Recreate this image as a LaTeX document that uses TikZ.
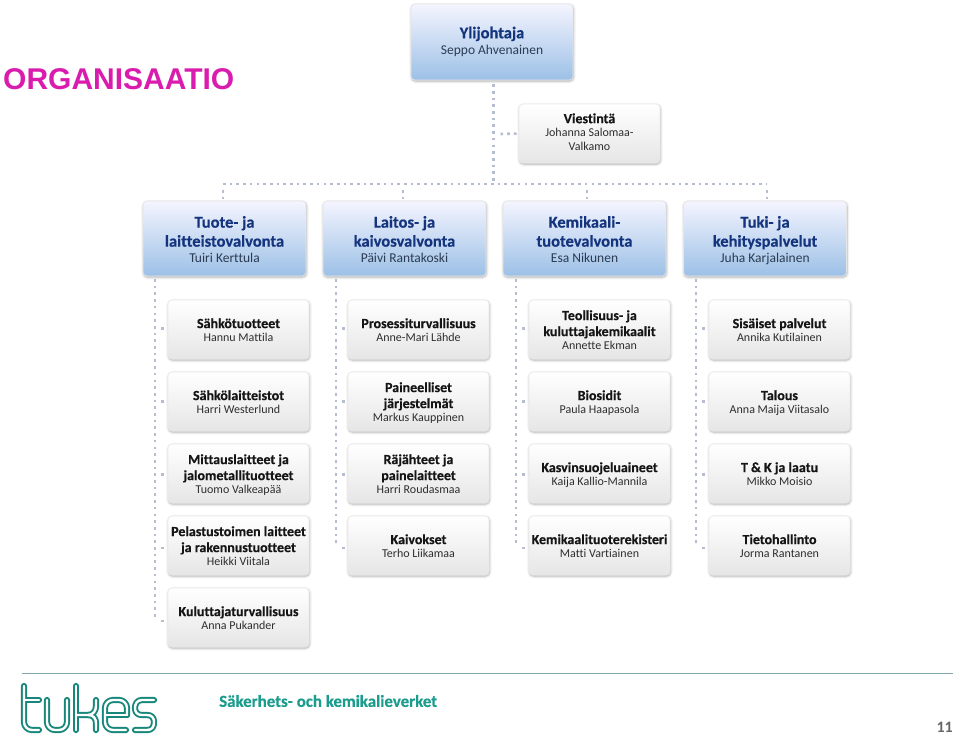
\documentclass[tikz,border=0pt]{standalone}
\usepackage{fontspec}
\setmainfont{Carlito}[Ligatures=NoCommon,BoldFeatures={FakeBold=0.4}]
\newfontfamily\footfont{Carlito}[Ligatures=NoCommon]
\newfontfamily\titlefont{Liberation Sans}
\usetikzlibrary{shadows,shadows.blur}
\definecolor{navy}{HTML}{15347E}
\definecolor{nameblue}{HTML}{2B3B52}
\definecolor{ink}{HTML}{151515}
\definecolor{namegrey}{HTML}{2E2E2E}
\definecolor{dotc}{HTML}{B6BDD1}
\definecolor{teal1}{HTML}{17877B}
\definecolor{teal2}{HTML}{1B9C8C}
\definecolor{rulec}{HTML}{7FA9AD}
\definecolor{mag}{HTML}{D91CAE}
\definecolor{bmid}{HTML}{DDE9F6}
\definecolor{bbot}{HTML}{9CC0E6}
\newcommand{\lines}[1]{\begin{tabular}{@{}c@{}}#1\end{tabular}}
\newcommand{\hd}[1]{{\fontsize{16.5}{19}\selectfont\bfseries\color{navy}\lines{\rule{0pt}{18pt}#1}}\\[-1pt]}
\newcommand{\hdn}[1]{{\fontsize{16.5}{19}\selectfont\bfseries\color{navy}\lines{#1}}\\[-1pt]}
\newcommand{\nm}[1]{{\fontsize{13.5}{15}\selectfont\color{nameblue}\lines{#1}}}
\newcommand{\hb}[1]{{\fontsize{14}{16}\selectfont\bfseries\color{ink}\lines{\rule{0pt}{15pt}#1}}\\[-2pt]}
\newcommand{\hbn}[1]{{\fontsize{14}{16}\selectfont\bfseries\color{ink}\lines{#1}}\\[-2pt]}
\newcommand{\nb}[1]{{\fontsize{12}{14}\selectfont\color{namegrey}\lines{#1}}}
\tikzset{
  x=1pt,y=-1pt,
  softshadow/.style={blur shadow={shadow xshift=0.5pt,shadow yshift=-1.2pt,shadow blur radius=2.5pt,shadow blur steps=6,shadow opacity=32}},
  bluebox/.style={rounded corners=4pt,draw=white!90!black,line width=.6pt,minimum width=163pt,minimum height=75pt,
    top color=white!96!blue,middle color=bmid,bottom color=bbot,
    align=center,inner sep=0pt,softshadow},
  greybox/.style={rounded corners=4pt,draw=white!92!black,line width=.6pt,minimum width=141pt,minimum height=59pt,
    top color=white,bottom color=black!10,
    align=center,inner sep=0pt,softshadow},
  dots/.style={draw=dotc,line width=2.6pt,dash pattern=on 2.6pt off 4.1pt},
}
\begin{document}
\begin{tikzpicture}
\useasboundingbox (0,0) rectangle (960,738);
% nodes
\node[bluebox,minimum width=162pt,minimum height=76pt] (top) at (492,42) {\hdn{Ylijohtaja}\nm{Seppo Ahvenainen}};
\node[greybox] (comm) at (589.5,133.5) {\hbn{Viestintä}\nb{Johanna Salomaa-\\Valkamo}};
\node[bluebox] (a) at (224.5,238.5) {\hd{Tuote- ja\\laitteistovalvonta}\nm{Tuiri Kerttula}};
\node[bluebox] (b) at (404.5,238.5) {\hd{Laitos- ja\\kaivosvalvonta}\nm{Päivi Rantakoski}};
\node[bluebox] (c) at (584.5,238.5) {\hd{Kemikaali-\\tuotevalvonta}\nm{Esa Nikunen}};
\node[bluebox] (d) at (765,238.5) {\hd{Tuki- ja\\kehityspalvelut}\nm{Juha Karjalainen}};
\node[greybox] (a1) at (238.5,329.5) {\hb{Sähkötuotteet}\nb{Hannu Mattila}};
\node[greybox] (a2) at (238.5,401.5) {\hb{Sähkölaitteistot}\nb{Harri Westerlund}};
\node[greybox] (a3) at (238.5,473.5) {\hb{Mittauslaitteet ja\\jalometallituotteet}\nb{Tuomo Valkeapää}};
\node[greybox] (a4) at (238.5,545.5) {\hb{Pelastustoimen laitteet\\ja rakennustuotteet}\nb{Heikki Viitala}};
\node[greybox] (a5) at (238.5,617.5) {\hb{Kuluttajaturvallisuus}\nb{Anna Pukander}};
\node[greybox] (b1) at (418.5,329.5) {\hb{Prosessiturvallisuus}\nb{Anne-Mari Lähde}};
\node[greybox] (b2) at (418.5,401.5) {\hb{Paineelliset\\järjestelmät}\nb{Markus Kauppinen}};
\node[greybox] (b3) at (418.5,473.5) {\hb{Räjähteet ja\\painelaitteet}\nb{Harri Roudasmaa}};
\node[greybox] (b4) at (418.5,545.5) {\hb{Kaivokset}\nb{Terho Liikamaa}};
\node[greybox] (c1) at (599.5,329.5) {\hb{Teollisuus- ja\\kuluttajakemikaalit}\nb{Annette Ekman}};
\node[greybox] (c2) at (599.5,401.5) {\hb{Biosidit}\nb{Paula Haapasola}};
\node[greybox] (c3) at (599.5,473.5) {\hb{Kasvinsuojeluaineet}\nb{Kaija Kallio-Mannila}};
\node[greybox] (c4) at (599.5,545.5) {\hb{Kemikaalituoterekisteri}\nb{Matti Vartiainen}};
\node[greybox] (d1) at (779.5,329.5) {\hb{Sisäiset palvelut}\nb{Annika Kutilainen}};
\node[greybox] (d2) at (779.5,401.5) {\hb{Talous}\nb{Anna Maija Viitasalo}};
\node[greybox] (d3) at (779.5,473.5) {\hb{T \& K ja laatu}\nb{Mikko Moisio}};
\node[greybox] (d4) at (779.5,545.5) {\hb{Tietohallinto}\nb{Jorma Rantanen}};
% connector end points
\coordinate (j0) at (493.5,181);
\coordinate (jc) at (493.5,134);
\coordinate (ja) at (223,184);
\coordinate (jb) at (403,184);
\coordinate (jcc) at (587,184);
\coordinate (jd) at (767,184);
\foreach \n/\x/\last in {a/155/5,b/336/4,c/516/4,d/696/4}{
  \coordinate (\n t) at (\x,279);
  \foreach \r in {1,...,\last}{
    \coordinate (\n s\r) at (\x,{255+73.2*\r});
  }
}
% connectors
\draw[dots] (top.south) ++(1.5,4) -- (j0);
\draw[dots] ([xshift=7pt]jc) -- (comm.west);
\draw[dots] (ja) -- (jd);
\draw[dots] ([yshift=-6pt]ja) -- (a.north -| ja);
\draw[dots] ([yshift=-6pt]jb) -- (b.north -| jb);
\draw[dots] ([yshift=-6pt]jcc) -- (c.north -| jcc);
\draw[dots] ([yshift=-6pt]jd) -- (d.north -| jd);
\draw[dots] (at) -- ([yshift=3pt]as5);
\draw[dots] (bt) -- ([yshift=3pt]bs4);
\draw[dots] (ct) -- ([yshift=3pt]cs4);
\draw[dots] (dt) -- ([yshift=3pt]ds4);
\foreach \n/\last in {a/5,b/4,c/4,d/4}{
  \foreach \r in {1,...,\last}{
    \draw[dots] ([xshift=6pt]\n s\r) -- (\n\r.west |- \n s\r);
  }
}
% title and footer
\node[anchor=west,inner sep=0pt,text=mag,font=\titlefont\fontsize{30}{32}\selectfont\bfseries] (title) at (3,79) {ORGANISAATIO};
\coordinate (ruleL) at (22,673);
\coordinate (ruleR) at (953,673);
\draw[rulec,line width=1pt] (ruleL) -- (ruleR);
\node[anchor=west,inner sep=0pt,text=teal2,font=\fontsize{16.9}{18}\selectfont\bfseries] (sv) at (219,701) {Säkerhets- och kemikalieverket};
\node[anchor=east,inner sep=0pt,text=black!60,font=\footfont\fontsize{16}{17}\selectfont\bfseries] (pg) at (953,727) {11};
% logo
\def\logopaths#1{
\draw[#1] (24,686) -- (24,722) arc[start angle=180,end angle=90,radius=8] -- (39,730);
\draw[#1] (24,700) -- (39,700);
\draw[#1] (47,700) -- (47,722) arc[start angle=180,end angle=90,radius=8] -- (59,730) arc[start angle=90,end angle=0,radius=8] -- (67,700);
\draw[#1] (76,686) -- (76,730);
\draw[#1] (76,715) -- (88,715) .. controls (93,715) and (96,711) .. (96,706) -- (96,700);
\draw[#1] (88,715) .. controls (93,715) and (96,718) .. (96,723) -- (96,730);
\draw[#1] (127,715) -- (105,715);
\draw[#1] (127,715) -- (127,708) arc[start angle=0,end angle=-90,radius=8] -- (113,700) arc[start angle=-90,end angle=-180,radius=8] -- (105,722) arc[start angle=180,end angle=90,radius=8] -- (126,730);
\draw[#1] (154,700) -- (142,700) .. controls (137,700) and (135,704) .. (135,708) .. controls (135,712) and (137,715) .. (142,715) -- (147,715) .. controls (152,715) and (154,718) .. (154,722) .. controls (154,727) and (152,730) .. (147,730) -- (135,730);
}
\logopaths{teal1,line width=6.2pt,line cap=round,line join=round}
\logopaths{white,line width=2.4pt,line cap=round,line join=round}
\end{tikzpicture}
\end{document}
